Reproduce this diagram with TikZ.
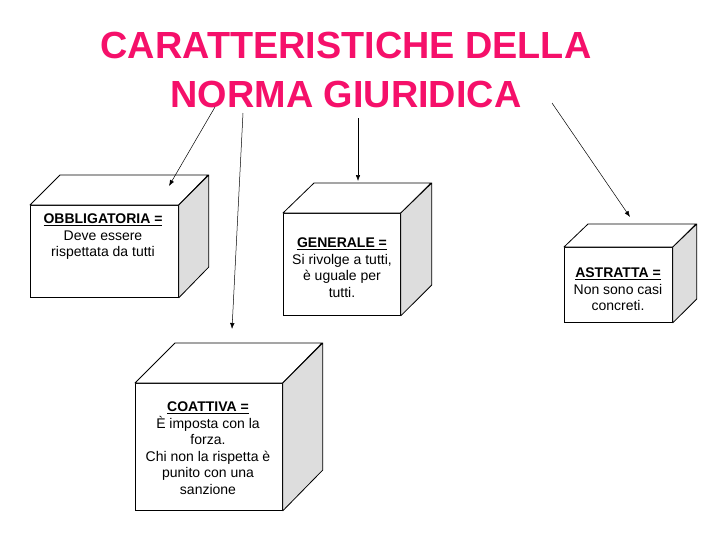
\documentclass[tikz,border=0pt]{standalone}
\usepackage{fontspec}
\setmainfont{Liberation Sans}
\usepackage{xcolor}
\usetikzlibrary{arrows.meta}

\definecolor{rosa}{HTML}{F5106A}
\definecolor{fianco}{HTML}{DDDDDD}

\begin{document}
\begin{tikzpicture}[x=1pt,y=-1pt,
		faccia/.style={draw=black, fill=white, line width=0.8pt, inner sep=0pt, anchor=north west},
		lato/.style={draw=black, line width=0.8pt, line join=round},
		testo/.style={anchor=north, inner sep=0pt, align=center, font=\fontsize{14}{16.5}\selectfont},
		freccia/.style={-{Latex[length=6pt,width=4.5pt]}, line width=0.5pt},
		titolo/.style={text=rosa, align=center, font=\fontsize{37.8}{49}\selectfont\bfseries}]
		\useasboundingbox (0,0) rectangle (728,546);

		% titolo
		\node[titolo] (titolo) at (346,69.5) {CARATTERISTICHE DELLA\\NORMA GIURIDICA};

		% obbligatoria
		\node[faccia, minimum width=148pt, minimum height=92pt] (obbligatoria) at (30,205) {};
		\filldraw[lato, fill=white] (obbligatoria.north west) -- ++(30,-30) -- ++(148,0) -- (obbligatoria.north east) -- cycle;
		\filldraw[lato, fill=fianco] (obbligatoria.north east) -- ++(30,-30) -- ++(0,92) -- (obbligatoria.south east) -- cycle;
		\node[testo] (t-obbligatoria) at (103,214) {\underline{\textbf{OBBLIGATORIA =}}\\Deve essere\\rispettata da tutti};

		% coattiva
		\node[faccia, minimum width=147pt, minimum height=127pt] (coattiva) at (135,383) {};
		\filldraw[lato, fill=white] (coattiva.north west) -- ++(40,-40) -- ++(147,0) -- (coattiva.north east) -- cycle;
		\filldraw[lato, fill=fianco] (coattiva.north east) -- ++(40,-40) -- ++(0,127) -- (coattiva.south east) -- cycle;
		\node[testo] (t-coattiva) at (208,402) {\underline{\textbf{COATTIVA =}}\\È imposta con la\\forza.\\Chi non la rispetta è\\punito con una\\sanzione};

		% generale
		\node[faccia, minimum width=117pt, minimum height=102pt] (generale) at (283,213) {};
		\filldraw[lato, fill=white] (generale.north west) -- ++(31,-30) -- ++(117,0) -- (generale.north east) -- cycle;
		\filldraw[lato, fill=fianco] (generale.north east) -- ++(31,-30) -- ++(0,102) -- (generale.south east) -- cycle;
		\node[testo] (t-generale) at (342,238) {\underline{\textbf{GENERALE =}}\\Si rivolge a tutti,\\è uguale per\\tutti.};

		% astratta
		\node[faccia, minimum width=108pt, minimum height=75pt] (astratta) at (564,247) {};
		\filldraw[lato, fill=white] (astratta.north west) -- ++(24,-23) -- ++(108,0) -- (astratta.north east) -- cycle;
		\filldraw[lato, fill=fianco] (astratta.north east) -- ++(24,-23) -- ++(0,75) -- (astratta.south east) -- cycle;
		\node[testo] (t-astratta) at (618,268) {\underline{\textbf{ASTRATTA =}}\\Non sono casi\\concreti.};

		% frecce
		\coordinate (da-obb) at (215,107);
		\coordinate (a-obb) at (169,186);
		\coordinate (da-coa) at (243,113);
		\coordinate (a-coa) at (232,329);
		\coordinate (da-gen) at (358,118);
		\coordinate (a-gen) at (358,181);
		\coordinate (da-ast) at (552,103);
		\coordinate (a-ast) at (630,217);
		\draw[freccia] (da-obb) -- (a-obb);
		\draw[freccia] (da-coa) -- (a-coa);
		\draw[freccia] (da-gen) -- (a-gen);
		\draw[freccia] (da-ast) -- (a-ast);
	\end{tikzpicture}
\end{document}
